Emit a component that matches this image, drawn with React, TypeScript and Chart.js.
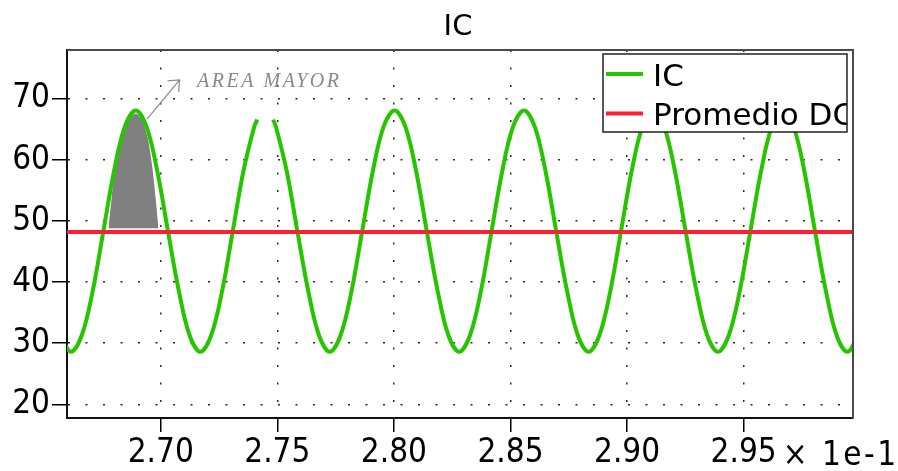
import React, { useEffect, useRef } from "react";
import { Chart, registerables } from "chart.js";

Chart.register(...registerables);

// ---------- data ----------
const TITLE = "IC";
const seriesLabels = ["IC", "Promedio DC"];
const xTickValues = [2.7, 2.75, 2.8, 2.85, 2.9, 2.95];
const xTickLabels = ["2.70", "2.75", "2.80", "2.85", "2.90", "2.95"];
const yTickValues = [20, 30, 40, 50, 60, 70];
const yTickLabels = ["20", "30", "40", "50", "60", "70"];
const xMin = 2.6598;
const xMax = 2.9969;
const yMin = 17.75;
const yMax = 78;
const xExponentLabel = "\u00d7 1e-1";

const icX = [
  2.6569,
  2.6615, 2.6661, 2.6708, 2.6754, 2.68, 2.6846, 2.6893, 2.6939, 2.6985, 2.7031, 2.7078, 2.7124,
  2.717, 2.7216, 2.7263, 2.7309, 2.7355, 2.7401, 2.7414, 2.7448, 2.7482, 2.7494, 2.754, 2.7586, 2.7633, 2.7679,
  2.7725, 2.7771, 2.7818, 2.7864, 2.791, 2.7956, 2.8003, 2.8049, 2.8095, 2.8141, 2.8188, 2.8234,
  2.828, 2.8326, 2.8373, 2.8419, 2.8465, 2.8511, 2.8558, 2.8604, 2.865, 2.8696, 2.8743, 2.8789,
  2.8835, 2.8881, 2.8928, 2.8974, 2.902, 2.9066, 2.9113, 2.9159, 2.9205, 2.9251, 2.9298, 2.9344,
  2.939, 2.9436, 2.9483, 2.9529, 2.9575, 2.9621, 2.9668, 2.9714, 2.976, 2.9806, 2.9853, 2.9899,
  2.9945, 2.9991,
];
const icY = [
  31.25,
  28.6, 31.25, 38.48, 48.35, 58.23, 65.45, 68.1, 65.45, 58.23, 48.35, 38.48, 31.25,
  28.6, 31.25, 38.48, 48.35, 58.23, 65.45, 66.6, null, 66.6, 65.45, 58.23, 48.35, 38.48, 31.25,
  28.6, 31.25, 38.48, 48.35, 58.23, 65.45, 68.1, 65.45, 58.23, 48.35, 38.48, 31.25,
  28.6, 31.25, 38.48, 48.35, 58.23, 65.45, 68.1, 65.45, 58.23, 48.35, 38.48, 31.25,
  28.6, 31.25, 38.48, 48.35, 58.23, 65.45, 68.1, 65.45, 58.23, 48.35, 38.48, 31.25,
  28.6, 31.25, 38.48, 48.35, 58.23, 65.45, 68.1, 65.45, 58.23, 48.35, 38.48, 31.25,
  28.6, 31.25,
];
const avgDC = 48.2;

// shaded "area mayor" region (first peak above the DC average)
const areaX = [2.6776, 2.679, 2.681, 2.6835, 2.6865, 2.6893, 2.692, 2.6945, 2.6965, 2.698, 2.699];
const areaY = [48.8, 54.0, 60.0, 63.5, 66.8, 67.6, 66.6, 63.5, 58.5, 53.0, 48.8];
const areaBase = 48.8;

const annotationText = "AREA MAYOR";
const arrowFrom = [2.6941, 66.7];
const arrowTo = [2.7081, 73.1];
const annotationAnchor = [2.7156, 72.0];

// ---------- styles ----------
const GREEN = "#27c400";
const RED = "#ff1f35";
const TICK_FONT = "'DejaVu Sans Condensed', 'Liberation Sans', sans-serif";
const SANS = "'DejaVu Sans', Verdana, sans-serif";

const decorPlugin = {
  id: "decor",
  afterDatasetsDraw(chart: any) {
    const { ctx, chartArea: ca, scales } = chart;
    const xs = scales.x;
    const ys = scales.y;
    ctx.save();

    // top & right frame
    ctx.strokeStyle = "#4a4a4a";
    ctx.lineWidth = 2;
    ctx.setLineDash([]);
    ctx.beginPath();
    ctx.moveTo(ca.left, ca.top);
    ctx.lineTo(ca.right, ca.top);
    ctx.lineTo(ca.right, ca.bottom);
    ctx.stroke();

    // annotation arrow
    const fx = xs.getPixelForValue(arrowFrom[0]);
    const fy = ys.getPixelForValue(arrowFrom[1]);
    const tx = xs.getPixelForValue(arrowTo[0]);
    const ty = ys.getPixelForValue(arrowTo[1]);
    ctx.strokeStyle = "#8a8a8a";
    ctx.lineWidth = 1.2;
    ctx.beginPath();
    ctx.moveTo(fx, fy);
    ctx.lineTo(tx, ty);
    ctx.moveTo(tx - 12, ty + 1);
    ctx.lineTo(tx, ty);
    ctx.lineTo(tx - 1, ty + 12);
    ctx.stroke();

    // annotation text
    ctx.fillStyle = "#8a8a8a";
    ctx.font = "italic 20px 'Liberation Serif', 'DejaVu Serif', serif";
    (ctx as any).letterSpacing = "2.5px";
    ctx.textAlign = "left";
    ctx.textBaseline = "alphabetic";
    ctx.fillText(annotationText, xs.getPixelForValue(annotationAnchor[0]), ys.getPixelForValue(annotationAnchor[1]));
    (ctx as any).letterSpacing = "0px";

    // legend box
    const lw = 244;
    const lh = 78;
    const lx = ca.right - 6 - lw;
    const ly = ca.top + 4;
    ctx.fillStyle = "#ffffff";
    ctx.fillRect(lx, ly, lw, lh);
    ctx.save();
    ctx.beginPath();
    ctx.rect(lx, ly, lw, lh);
    ctx.clip();
    const items = chart.data.datasets.filter((d: any) => d.showInLegend);
    items.forEach((d: any, i: number) => {
      const cy = ly + 20 + i * 39.5;
      ctx.strokeStyle = d.borderColor;
      ctx.lineWidth = 4;
      ctx.beginPath();
      ctx.moveTo(lx + 3, cy);
      ctx.lineTo(lx + 40, cy);
      ctx.stroke();
      ctx.fillStyle = "#000";
      ctx.font = `31px ${SANS}`;
      ctx.textAlign = "left";
      ctx.textBaseline = "alphabetic";
      ctx.fillText(d.label, lx + 50, cy + 11.5);
    });
    ctx.restore();
    ctx.strokeStyle = "#222";
    ctx.lineWidth = 1.5;
    ctx.strokeRect(lx, ly, lw, lh);

    ctx.restore();
  },
  afterDraw(chart: any) {
    const { ctx, chartArea: ca, scales } = chart;
    ctx.save();
    // title
    ctx.fillStyle = "#000";
    ctx.font = `29px ${SANS}`;
    ctx.textAlign = "center";
    ctx.textBaseline = "alphabetic";
    ctx.fillText(TITLE, (ca.left + ca.right) / 2 - 2, ca.top - 15);
    // axis exponent
    ctx.font = `33px ${TICK_FONT}`;
    ctx.textAlign = "left";
    (ctx as any).letterSpacing = "2.5px";
    const lastTick = scales.x.getPixelForValue(xTickValues[xTickValues.length - 1]);
    ctx.fillText(xExponentLabel, lastTick + 39, ca.bottom + 47);
    (ctx as any).letterSpacing = "0px";
    ctx.restore();
  },
};

export default function App() {
  const ref = useRef<HTMLCanvasElement | null>(null);

  useEffect(() => {
    document.body.style.margin = "0";
    const canvas = ref.current;
    if (!canvas) return;

    const icData = icX.map((x, i) => ({ x, y: icY[i] }));
    const avgData = [
      { x: xMin, y: avgDC },
      { x: xMax, y: avgDC },
    ];
    const areaData = areaX.map((x, i) => ({ x, y: areaY[i] }));

    const chart = new Chart(canvas, {
      type: "line",
      data: {
        datasets: [
          {
            label: seriesLabels[0],
            data: icData,
            borderColor: GREEN,
            borderWidth: 4,
            pointRadius: 0,
            tension: 0.36,
            spanGaps: false,
            fill: false,
            order: 1,
            showInLegend: true,
          } as any,
          {
            label: seriesLabels[1],
            data: avgData,
            borderColor: RED,
            borderWidth: 4,
            pointRadius: 0,
            fill: false,
            order: 0,
            showInLegend: true,
          } as any,
          {
            label: "area",
            data: areaData,
            borderColor: "rgba(0,0,0,0)",
            borderWidth: 0,
            backgroundColor: "#808080",
            pointRadius: 0,
            tension: 0.2,
            fill: { value: areaBase },
            order: 2,
            showInLegend: false,
          } as any,
        ],
      },
      options: {
        animation: false,
        responsive: false,
        maintainAspectRatio: false,
        layout: { padding: { top: 50, right: 45, left: 0, bottom: 0 } },
        plugins: {
          legend: { display: false },
          title: { display: false },
          tooltip: { enabled: false },
        },
        scales: {
          x: {
            type: "linear",
            min: xMin,
            max: xMax,
            afterBuildTicks: (axis: any) => {
              axis.ticks = xTickValues.map((v) => ({ value: v }));
            },
            afterFit: (axis: any) => {
              axis.height = 53;
            },
            ticks: {
              autoSkip: false,
              maxRotation: 0,
              padding: 2,
              color: "#000",
              font: { family: TICK_FONT, size: 33, lineHeight: 1.2 },
              callback: (v: any) => {
                const i = xTickValues.findIndex((t) => Math.abs(t - v) < 1e-6);
                return i >= 0 ? xTickLabels[i] : "";
              },
            },
            grid: {
              color: "#2a2a2a",
              lineWidth: 1.5,
              tickLength: 14,
              tickColor: "#000",
              tickWidth: 1.5,
            },
            border: { display: true, color: "#111", width: 2, dash: [2, 15.5] },
          },
          y: {
            type: "linear",
            min: yMin,
            max: yMax,
            afterBuildTicks: (axis: any) => {
              axis.ticks = yTickValues.map((v) => ({ value: v }));
            },
            afterFit: (axis: any) => {
              axis.width = 67;
            },
            ticks: {
              autoSkip: false,
              padding: 2,
              color: "#000",
              font: { family: TICK_FONT, size: 33, lineHeight: 1.2 },
              callback: (v: any) => {
                const i = yTickValues.findIndex((t) => Math.abs(t - v) < 1e-6);
                return i >= 0 ? yTickLabels[i] : "";
              },
            },
            grid: {
              color: "#2a2a2a",
              lineWidth: 1.5,
              tickLength: 15,
              tickColor: "#000",
              tickWidth: 1.5,
            },
            border: { display: true, color: "#111", width: 2, dash: [2, 15.5] },
          },
        },
      } as any,
      plugins: [decorPlugin],
    });

    return () => chart.destroy();
  }, []);

  return (
    <div style={{ width: 898, height: 471, background: "#fff" }}>
      <canvas ref={ref} width={898} height={471} style={{ display: "block", width: 898, height: 471 }} />
    </div>
  );
}
